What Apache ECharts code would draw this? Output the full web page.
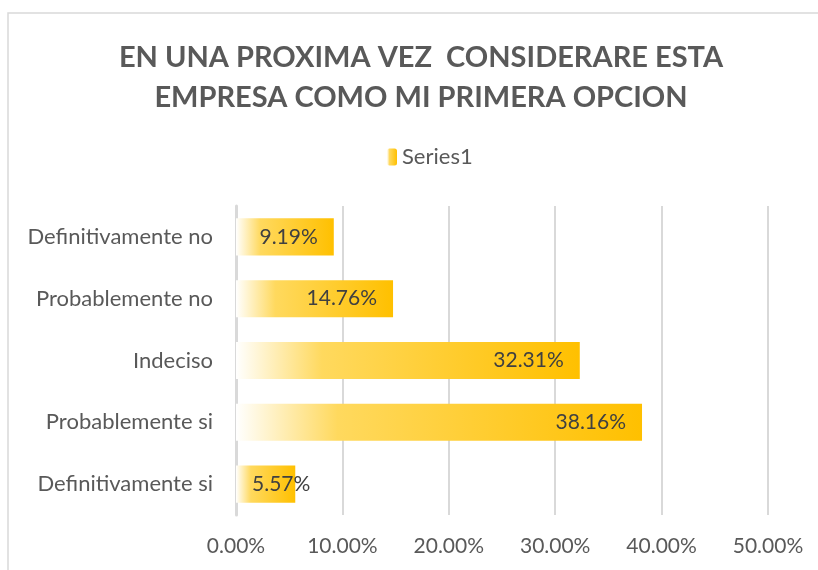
<!DOCTYPE html>
<html>
<head>
<meta charset="utf-8">
<script src="https://cdn.jsdelivr.net/npm/echarts@6/dist/echarts.min.js"></script>
<style>
  html, body { margin: 0; padding: 0; background: #fff; }
  #container { width: 818px; height: 570px; }
</style>
</head>
<body>
<div id="container"></div>
<script>
// categories (top to bottom, as in the picture) and values in percent
const categorias = [
  "Definitivamente no",
  "Probablemente no",
  "Indeciso",
  "Probablemente si",
  "Definitivamente si",
];
const valores = [9.19, 14.76, 32.31, 38.16, 5.57];
const nombreSerie = "Series1";

const fuente = "Lato";
const dom = document.getElementById("container");
const myChart = echarts.init(dom, null, { renderer: "canvas" });

// white -> gold gradient, like the Excel fill
const degradado = new echarts.graphic.LinearGradient(0, 0, 1, 0, [
  { offset: 0, color: "#ffffff" },
  { offset: 0.25, color: "#ffd95e" },
  { offset: 1, color: "#ffc000" },
]);

// the category axis runs bottom-up, so reverse for drawing
const cats = [...categorias].reverse();
const datos = [...valores].reverse().map((v) => {
  const item = { value: v };
  // short bar: excel pushes the label out from the left
  if (v < 7) {
    item.label = { position: "insideLeft", distance: 16 };
  }
  return item;
});

const option = {
  backgroundColor: "#fff",
  textStyle: { fontFamily: fuente },
  graphic: [
    {
      type: "rect",
      shape: { x: 8, y: 13, width: 840, height: 600 },
      style: { fill: "none", stroke: "#d9d9d9", lineWidth: 1.5 },
      silent: true,
      z: -1,
    },
  ],
  title: {
    text: "EN UNA PROXIMA VEZ  CONSIDERARE ESTA\nEMPRESA COMO MI PRIMERA OPCION",
    left: 416,
    top: 33,
    textAlign: "center",
    textStyle: {
      fontFamily: fuente,
      fontWeight: "bold",
      fontSize: 29,
      lineHeight: 40,
      color: "#595959",
    },
  },
  legend: {
    data: [nombreSerie],
    left: 382,
    top: 141,
    itemWidth: 10,
    itemHeight: 17,
    itemGap: 6,
    textStyle: { fontFamily: fuente, fontSize: 22, color: "#595959" },
  },
  grid: { left: 236, right: 50, top: 206, bottom: 55 },
  xAxis: {
    type: "value",
    min: 0,
    max: 50,
    interval: 10,
    axisLine: { show: false },
    axisTick: { show: false },
    splitLine: { lineStyle: { color: "#d9d9d9", width: 2 } },
    axisLabel: {
      margin: 21,
      fontFamily: fuente,
      fontSize: 21,
      color: "#595959",
      formatter: (v) => v.toFixed(2) + "%",
    },
  },
  yAxis: {
    type: "category",
    data: cats,
    axisLine: { show: true, lineStyle: { color: "#d9d9d9", width: 3 } },
    axisTick: { show: false },
    axisLabel: {
      margin: 23,
      fontFamily: fuente,
      fontSize: 22,
      color: "#595959",
    },
  },
  series: [
    {
      name: nombreSerie,
      type: "bar",
      data: datos,
      barCategoryGap: "40%",
      itemStyle: { color: degradado },
      label: {
        show: true,
        position: "insideRight",
        distance: 16,
        fontFamily: fuente,
        fontSize: 21,
        color: "#404040",
        formatter: (p) => p.value.toFixed(2) + "%",
      },
    },
  ],
};

myChart.setOption(option);
window.addEventListener("resize", myChart.resize);
</script>
</body>
</html>
